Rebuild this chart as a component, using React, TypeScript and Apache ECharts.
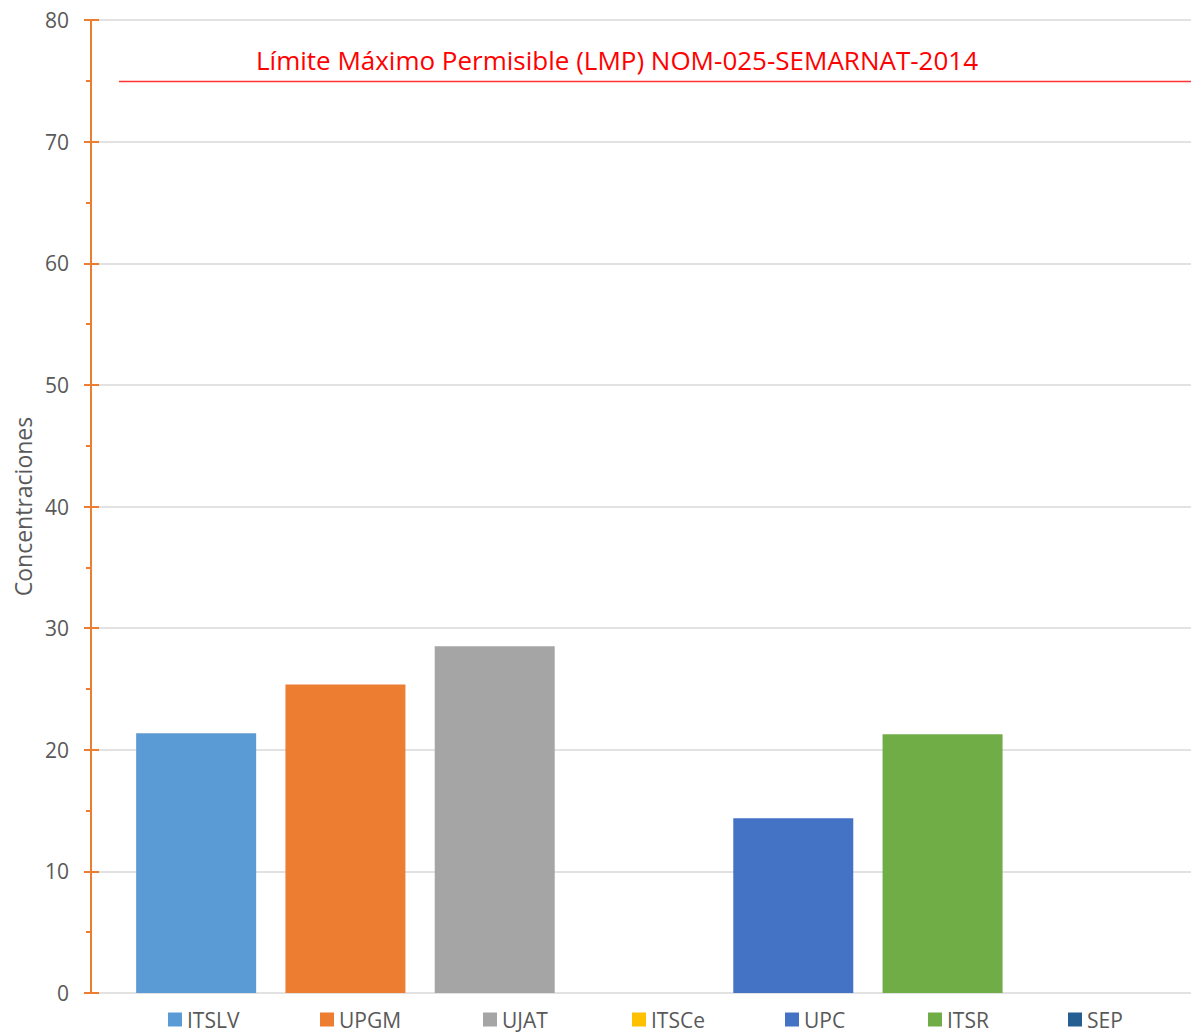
import React, { useEffect, useRef } from "react";
import * as echarts from "echarts";

const categories: string[] = ["Concentraciones"];
const seriesNames: string[] = ["ITSLV", "UPGM", "UJAT", "ITSCe", "UPC", "ITSR", "SEP"];
const seriesValues: number[] = [21.35, 25.37, 28.5, 0, 14.37, 21.27, 0];
const seriesColors: string[] = ["#5B9BD5", "#ED7D31", "#A5A5A5", "#FFC000", "#4472C4", "#70AD47", "#255E91"];
const limitValue = 75;
const limitLabel = "Límite Máximo Permisible (LMP) NOM-025-SEMARNAT-2014";
const yTicks = { min: 0, max: 80, interval: 10 };
const yAxisTitle = "Concentraciones";

// layout only
const legendLeft: number[] = [168, 320, 483, 632, 785, 928, 1068];
const FONT = "'Open Sans', 'Noto Sans', sans-serif";

export default function App() {
  const ref = useRef<HTMLDivElement>(null);
  useEffect(() => {
    if (!ref.current) return;
    const chart = echarts.init(ref.current, undefined, { renderer: "svg" });
    const baseAxis = {
      type: "value" as const,
      min: yTicks.min,
      max: yTicks.max,
      interval: yTicks.interval,
      position: "left" as const,
      offset: 6,
    };
    chart.setOption({
      animation: false,
      backgroundColor: "#ffffff",
      textStyle: { fontFamily: FONT },
      grid: { left: 97, top: 20, right: 0, height: 973, containLabel: false },
      legend: seriesNames.map((n, i) => ({
        data: [n],
        left: legendLeft[i],
        top: 1009,
        padding: 0,
        itemWidth: 14,
        itemHeight: 14,
        icon: "rect",
        selectedMode: false,
        textStyle: { fontSize: 21, lineHeight: 20, color: "#595959", fontFamily: FONT },
      })),
      xAxis: {
        type: "category",
        data: categories,
        axisLine: { show: false },
        axisTick: { show: false },
        axisLabel: { show: false },
      },
      yAxis: [
        {
          ...baseAxis,
          axisLine: { show: true, lineStyle: { color: "#ED7D31", width: 2 } },
          axisTick: { show: true, inside: false, length: 7, lineStyle: { color: "#ED7D31", width: 2 } },
          minorTick: { show: true, splitNumber: 2, length: 5, lineStyle: { color: "#ED7D31", width: 2 } },
          splitLine: { show: true, lineStyle: { color: "#D9D9D9", width: 1.5 } },
          axisLabel: { color: "#595959", fontSize: 21, margin: 22, fontFamily: FONT },
          name: yAxisTitle,
          nameLocation: "middle",
          nameRotate: 90,
          nameGap: 57,
          nameTextStyle: { color: "#595959", fontSize: 23, fontFamily: FONT },
        },
        {
          ...baseAxis,
          axisLine: { show: true, lineStyle: { color: "#ED7D31", width: 2 } },
          axisTick: { show: true, inside: true, length: 8, lineStyle: { color: "#ED7D31", width: 2 } },
          splitLine: { show: false },
          axisLabel: { show: false },
        },
      ],
      series: seriesNames.map((n, i) => ({
        name: n,
        type: "bar",
        yAxisIndex: 0,
        data: [seriesValues[i]],
        barWidth: 120,
        barGap: "24.4%",
        itemStyle: { color: seriesColors[i] },
        ...(i === 0
          ? {
              markLine: {
                silent: true,
                symbol: "none",
                label: { show: false },
                lineStyle: { color: "#FF3030", width: 1.4, type: "solid" },
                data: [[{ x: 119, yAxis: limitValue }, { x: 1191, yAxis: limitValue }]],
              },
            }
          : {}),
      })),
      graphic: [
        {
          type: "text",
          left: 256,
          top: 47,
          style: { text: limitLabel, fill: "#FF0000", fontSize: 26, fontFamily: FONT },
        },
      ],
    });
    return () => chart.dispose();
  }, []);
  return (
    <div
      ref={ref}
      style={{ position: "fixed", left: 0, top: 0, width: 1191, height: 1034, background: "#fff" }}
    />
  );
}
